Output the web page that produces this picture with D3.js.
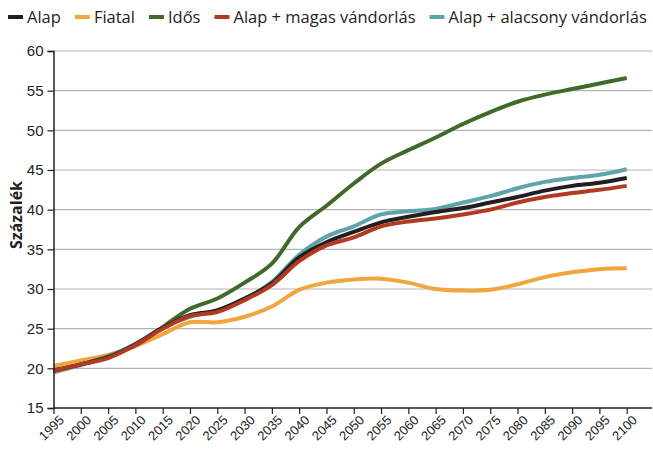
<!DOCTYPE html>
<html>
<head>
<meta charset="utf-8">
<script src="https://cdn.jsdelivr.net/npm/d3@7"></script>
<style>
  body { margin: 0; background: #fff; }
  svg { font-family: "Open Sans", sans-serif; }
</style>
</head>
<body>
<div id="chart"></div>
<script>
// years for every series
var years = [1995, 2000, 2005, 2010, 2015, 2020, 2025, 2030, 2035, 2040, 2045, 2050,
             2055, 2060, 2065, 2070, 2075, 2080, 2085, 2090, 2095, 2100];

var alap      = [19.7, 20.5, 21.4, 23.0, 25.1, 26.7, 27.3, 28.8, 30.7, 34.0, 35.9, 37.2,
                 38.4, 39.1, 39.7, 40.2, 40.9, 41.6, 42.4, 43.0, 43.4, 44.0];
var fiatal    = [20.3, 21.0, 21.7, 22.8, 24.3, 25.8, 25.8, 26.5, 27.8, 29.9, 30.8, 31.2,
                 31.3, 30.8, 30.0, 29.8, 29.9, 30.6, 31.5, 32.1, 32.5, 32.6];
var idos      = [19.8, 20.5, 21.5, 22.9, 25.2, 27.5, 28.8, 30.8, 33.2, 37.8, 40.5, 43.3,
                 45.8, 47.5, 49.1, 50.8, 52.3, 53.6, 54.5, 55.2, 55.9, 56.6];
var magas     = [19.7, 20.5, 21.3, 22.9, 25.0, 26.6, 27.1, 28.6, 30.5, 33.5, 35.5, 36.5,
                 37.9, 38.5, 38.9, 39.4, 40.0, 40.9, 41.6, 42.1, 42.5, 43.0];
var alacsony  = [19.5, 20.4, 21.5, 23.1, 25.1, 26.5, 27.3, 28.7, 30.9, 34.3, 36.6, 37.9,
                 39.4, 39.8, 40.1, 40.9, 41.7, 42.7, 43.5, 44.0, 44.4, 45.1];

var seriesNames  = ["Alap", "Fiatal", "Idős", "Alap + magas vándorlás", "Alap + alacsony vándorlás"];
var seriesColors = ["#231f20", "#f0a63e", "#41692b", "#b23a20", "#5fa3ab"];
var seriesValues = [alap, fiatal, idos, magas, alacsony];

var yTicks = [15, 20, 25, 30, 35, 40, 45, 50, 55, 60];
var yTitle = "Százalék";

var width = 653, height = 449;

var svg = d3.select("#chart").append("svg")
    .attr("width", width)
    .attr("height", height);

var x = d3.scaleLinear().domain([1995, 2105]).range([53.5, 654]);
var y = d3.scaleLinear().domain([15, 60]).range([408, 51]);

// gridlines
svg.append("g")
    .selectAll("line")
    .data(yTicks.filter(function (d) { return d > 15; }))
    .join("line")
    .attr("x1", 53.5)
    .attr("x2", 652)
    .attr("y1", function (d) { return y(d); })
    .attr("y2", function (d) { return y(d); })
    .attr("stroke", "#b3b3b3")
    .attr("stroke-width", 1.2);

// lines (draw order so that black sits over teal and red on top)
var line = d3.line()
    .x(function (d) { return x(d[0]); })
    .y(function (d) { return y(d[1]); })
    .curve(d3.curveCatmullRom);

var drawOrder = [1, 2, 4, 0, 3];
drawOrder.forEach(function (i) {
    var pts = years.map(function (yr, j) { return [yr, seriesValues[i][j]]; });
    svg.append("path")
        .datum(pts)
        .attr("fill", "none")
        .attr("stroke", seriesColors[i])
        .attr("stroke-width", 4)
        .attr("stroke-linejoin", "round")
        .attr("d", line);
});

// y axis
var yAxis = d3.axisLeft(y).tickValues(yTicks).tickSize(6).tickPadding(4);
var gy = svg.append("g")
    .attr("transform", "translate(53.5,0)")
    .call(yAxis);
gy.select(".domain").attr("stroke", "#231f20").attr("stroke-width", 1.5);
gy.selectAll(".tick line").attr("stroke", "#231f20").attr("stroke-width", 1.2);
gy.selectAll(".tick text").attr("font-size", 15).attr("fill", "#231f20");

// x axis
var xAxis = d3.axisBottom(x).tickValues(years).tickFormat(d3.format("d")).tickSize(6).tickSizeOuter(0);
var gx = svg.append("g")
    .attr("transform", "translate(0,408)")
    .call(xAxis);
gx.select(".domain").attr("stroke", "#231f20").attr("stroke-width", 1.5)
    .attr("d", "M53.5,0H652");
gx.selectAll(".tick line").attr("stroke", "#231f20").attr("stroke-width", 1.2);
gx.selectAll(".tick text")
    .attr("font-size", 13)
    .attr("fill", "#231f20")
    .attr("text-anchor", "end")
    .attr("dy", null)
    .attr("transform", "translate(4,6) rotate(-45)")
    .attr("y", 0)
    .attr("x", 0)
    .attr("dominant-baseline", "hanging");

// y title
svg.append("text")
    .attr("transform", "translate(22,215) rotate(-90)")
    .attr("text-anchor", "middle")
    .attr("font-size", 16)
    .attr("font-weight", "bold")
    .attr("fill", "#231f20")
    .text(yTitle);

// legend
var legend = svg.append("g").attr("transform", "translate(8,17)");
var lx = 0;
seriesNames.forEach(function (name, i) {
    var g = legend.append("g").attr("transform", "translate(" + lx + ",0)");
    g.append("line")
        .attr("x1", 0).attr("x2", 15)
        .attr("y1", 0).attr("y2", 0)
        .attr("stroke", seriesColors[i])
        .attr("stroke-width", 4);
    var t = g.append("text")
        .attr("x", 19)
        .attr("y", 0)
        .attr("dy", "0.35em")
        .attr("font-size", 16.5)
        .attr("fill", "#231f20")
        .text(name);
    lx += 19 + t.node().getComputedTextLength() + 14;
});
</script>
</body>
</html>
